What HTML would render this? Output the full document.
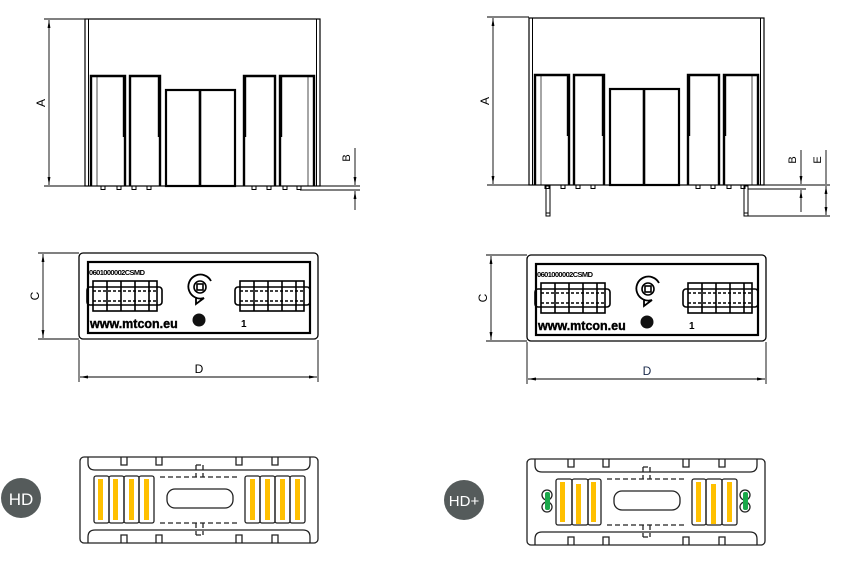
<!DOCTYPE html>
<html><head><meta charset="utf-8"><style>
html,body{margin:0;padding:0;background:#fff;}
svg{display:block;}
text{font-family:"Liberation Sans",sans-serif;}
</style></head><body>
<svg width="856" height="585" viewBox="0 0 856 585" xmlns="http://www.w3.org/2000/svg">
<defs>
<marker id="ar" viewBox="0 0 10 10" refX="10" refY="5" markerUnits="userSpaceOnUse" markerWidth="8" markerHeight="8" orient="auto-start-reverse"><path d="M0,3.2 L10,5 L0,6.8 z" fill="#000"/></marker>
<g id="side" fill="none" stroke="#000">
  <rect x="85" y="19" width="235" height="167" stroke-width="1.2"/>
  <line x1="88.5" y1="19" x2="88.5" y2="186" stroke-width="1"/>
  <line x1="316.5" y1="19" x2="316.5" y2="186" stroke-width="1"/>
  <path d="M91,186 V76 H125 V186 M124,76 V137" stroke-width="2.4"/>
  <path d="M130,186 V76 H160 V186 M159,76 V137" stroke-width="2.4"/>
  <rect x="166" y="90" width="69" height="96" stroke-width="2.2"/>
  <line x1="200" y1="90" x2="200" y2="186" stroke-width="2.6"/>
  <path d="M244,186 V76 H275 V186 M245,76 V137" stroke-width="2.4"/>
  <path d="M280,186 V76 H314 V186 M281,76 V137" stroke-width="2.4"/>
  <line x1="97" y1="77" x2="97" y2="186" stroke-width="0.7"/>
  <line x1="308" y1="77" x2="308" y2="186" stroke-width="0.7"/>
  <g stroke-width="1"><rect x="101" y="186" width="4" height="3.5"/><rect x="117" y="186" width="4" height="3.5"/><rect x="132" y="186" width="4" height="3.5"/><rect x="147" y="186" width="4" height="3.5"/><rect x="252" y="186" width="4" height="3.5"/><rect x="267" y="186" width="4" height="3.5"/><rect x="283" y="186" width="4" height="3.5"/><rect x="297" y="186" width="4" height="3.5"/></g>
</g>
<g id="top">
  <rect x="79" y="253" width="239" height="86" rx="4" fill="none" stroke="#000" stroke-width="1.3"/>
  <rect x="88" y="262" width="222" height="71" fill="none" stroke="#000" stroke-width="2.2"/>
  <g fill="none" stroke="#000" stroke-width="1.6">
    <rect x="93" y="281" width="64" height="30"/><rect x="87" y="287" width="75" height="18" rx="3"/>
    <line x1="107" y1="281" x2="107" y2="311"/><line x1="121" y1="281" x2="121" y2="311"/><line x1="135" y1="281" x2="135" y2="311"/><line x1="149" y1="281" x2="149" y2="311"/>
    <line x1="93" y1="291" x2="157" y2="291" stroke-dasharray="3 2"/><line x1="93" y1="301" x2="157" y2="301" stroke-dasharray="3 2"/>
    <rect x="240" y="281" width="64" height="30"/><rect x="235" y="287" width="75" height="18" rx="3"/>
    <line x1="254" y1="281" x2="254" y2="311"/><line x1="268" y1="281" x2="268" y2="311"/><line x1="282" y1="281" x2="282" y2="311"/><line x1="296" y1="281" x2="296" y2="311"/>
    <line x1="240" y1="291" x2="304" y2="291" stroke-dasharray="3 2"/><line x1="240" y1="301" x2="304" y2="301" stroke-dasharray="3 2"/>
    <path d="M211,281 A12,12 0 1 0 204,298 L196,304 L196,297" stroke-width="1.8"/>
    <circle cx="200" cy="287" r="6"/><rect x="197" y="284" width="6" height="6"/>
  </g>
  <circle cx="199" cy="320" r="6.5" fill="#111"/>
</g>
<g id="bot" fill="none" stroke="#222" stroke-width="1.3">
  <rect x="80" y="457" width="238" height="86" rx="4"/>
  <path d="M88,457 V463 Q88,470 95,470 H303 Q310,470 310,463 V457"/>
  <path d="M88,543 V537 Q88,530 95,530 H303 Q310,530 310,537 V543"/>
  <path d="M121,457 V465 H127 V457 M156,457 V465 H162 V457 M236,457 V465 H242 V457 M272,457 V465 H278 V457"/>
  <path d="M121,543 V535 H127 V543 M156,543 V535 H162 V543 M236,543 V535 H242 V543 M272,543 V535 H278 V543"/>
  <rect x="167" y="489" width="66" height="19" rx="8"/>
  <path d="M160,477 H238 M160,523 H238 M196,465 V477 M203,465 V477 M196,523 V535 M203,523 V535 M196,465 H203 M196,535 H203" stroke-dasharray="5 3"/>
</g>
</defs>

<use href="#side"/>
<g stroke="#000" stroke-width="0.9" fill="none">
  <line x1="44" y1="19" x2="85" y2="19"/><line x1="44" y1="186" x2="360" y2="186"/>
  <line x1="49" y1="20" x2="49" y2="185" marker-start="url(#ar)" marker-end="url(#ar)"/>
  <line x1="300" y1="190" x2="360" y2="190"/>
  <line x1="355" y1="148" x2="355" y2="185" marker-end="url(#ar)"/>
  <line x1="355" y1="210" x2="355" y2="191" marker-end="url(#ar)"/>
</g>
<text transform="translate(45,103) rotate(-90)" font-size="12" text-anchor="middle">A</text>
<text transform="translate(350,158) rotate(-90)" font-size="11" text-anchor="middle">B</text>

<use href="#side" transform="translate(444,-1)"/>
<g fill="none" stroke="#000" stroke-width="1">
  <rect x="546" y="186" width="4" height="30"/><rect x="744" y="186" width="4" height="30"/>
  <line x1="546" y1="213" x2="550" y2="213"/><line x1="744" y1="213" x2="748" y2="213"/>
</g>
<g stroke="#000" stroke-width="0.9" fill="none">
  <line x1="487" y1="17" x2="529" y2="17"/><line x1="487" y1="185" x2="830" y2="185"/>
  <line x1="493" y1="18" x2="493" y2="184" marker-start="url(#ar)" marker-end="url(#ar)"/>
  <line x1="748" y1="189" x2="806" y2="189"/><line x1="748" y1="216" x2="830" y2="216"/>
  <line x1="801" y1="150" x2="801" y2="184" marker-end="url(#ar)"/>
  <line x1="801" y1="212" x2="801" y2="190" marker-end="url(#ar)"/>
  <line x1="826" y1="150" x2="826" y2="184"/>
  <line x1="826" y1="186" x2="826" y2="215" marker-start="url(#ar)" marker-end="url(#ar)"/>
</g>
<text transform="translate(489,101) rotate(-90)" font-size="12" text-anchor="middle">A</text>
<text transform="translate(796,160) rotate(-90)" font-size="11" text-anchor="middle">B</text>
<text transform="translate(821,160) rotate(-90)" font-size="11" text-anchor="middle">E</text>

<use href="#top"/>
<text x="89" y="275" font-size="7.5" font-weight="bold" letter-spacing="-0.6">0601000002CSMD</text>
<text x="90" y="328" font-size="12.5" font-weight="bold" stroke="#000" stroke-width="0.4">www.mtcon.eu</text>
<text x="241" y="327" font-size="10" font-weight="bold">1</text>
<g stroke="#000" stroke-width="0.9" fill="none">
  <line x1="38" y1="253" x2="79" y2="253"/><line x1="38" y1="339" x2="79" y2="339"/>
  <line x1="43" y1="254" x2="43" y2="338" marker-start="url(#ar)" marker-end="url(#ar)"/>
  <line x1="79" y1="340" x2="79" y2="382"/><line x1="318" y1="340" x2="318" y2="382"/>
  <line x1="80" y1="377" x2="317" y2="377" marker-start="url(#ar)" marker-end="url(#ar)"/>
</g>
<text transform="translate(39,296) rotate(-90)" font-size="12" text-anchor="middle">C</text>
<text x="199" y="373" font-size="12" text-anchor="middle">D</text>

<use href="#top" transform="translate(448,2)"/>
<text x="537" y="277" font-size="7.5" font-weight="bold" letter-spacing="-0.6">0601000002CSMD</text>
<text x="538" y="330" font-size="12.5" font-weight="bold" stroke="#000" stroke-width="0.4">www.mtcon.eu</text>
<text x="689" y="329" font-size="10" font-weight="bold">1</text>
<g stroke="#000" stroke-width="0.9" fill="none">
  <line x1="486" y1="255" x2="527" y2="255"/><line x1="486" y1="341" x2="527" y2="341"/>
  <line x1="491" y1="256" x2="491" y2="340" marker-start="url(#ar)" marker-end="url(#ar)"/>
  <line x1="527" y1="342" x2="527" y2="384"/><line x1="766" y1="342" x2="766" y2="384"/>
  <line x1="528" y1="379" x2="765" y2="379" marker-start="url(#ar)" marker-end="url(#ar)"/>
</g>
<text transform="translate(487,298) rotate(-90)" font-size="12" text-anchor="middle">C</text>
<text x="647" y="375" font-size="12" text-anchor="middle" fill="#1a2a4a">D</text>

<use href="#bot"/>
<g fill="none" stroke="#222" stroke-width="1.3">
  <rect x="94" y="476" width="15" height="47" rx="2"/><rect x="109" y="476" width="15" height="47" rx="2"/><rect x="124" y="476" width="15" height="47" rx="2"/><rect x="139" y="476" width="15" height="47" rx="2"/>
  <rect x="245" y="476" width="15" height="47" rx="2"/><rect x="260" y="476" width="15" height="47" rx="2"/><rect x="275" y="476" width="15" height="47" rx="2"/><rect x="290" y="476" width="15" height="47" rx="2"/>
</g>
<g fill="#ffc000">
  <rect x="98" y="479" width="5" height="41"/><rect x="113" y="479" width="5" height="41"/><rect x="129" y="479" width="5" height="41"/><rect x="144" y="479" width="5" height="41"/>
  <rect x="250" y="479" width="5" height="41"/><rect x="265" y="479" width="5" height="41"/><rect x="280" y="479" width="5" height="41"/><rect x="295" y="479" width="5" height="41"/>
</g>
<circle cx="21" cy="498" r="20" fill="#555b5b"/>
<text x="21" y="505" font-size="17" fill="#fff" text-anchor="middle">HD</text>

<use href="#bot" transform="translate(447,2)"/>
<g fill="none" stroke="#222" stroke-width="1.3">
  <rect x="556" y="479" width="16" height="46" rx="2"/><rect x="572" y="479" width="16" height="46" rx="2"/><rect x="588" y="479" width="13" height="46" rx="2"/>
  <rect x="692" y="479" width="14" height="46" rx="2"/><rect x="706" y="479" width="16" height="46" rx="2"/><rect x="722" y="479" width="15" height="46" rx="2"/>
  <circle cx="547" cy="495" r="5"/><circle cx="547" cy="507" r="5"/>
  <circle cx="745" cy="495" r="5"/><circle cx="745" cy="507" r="5"/>
</g>
<g fill="#ffc000">
  <rect x="560" y="482" width="5" height="40"/><rect x="576" y="484" width="5" height="40"/><rect x="591" y="482" width="5" height="40"/>
  <rect x="696" y="482" width="5" height="40"/><rect x="711" y="484" width="5" height="40"/><rect x="727" y="482" width="5" height="40"/>
</g>
<g fill="#1aa84a"><rect x="545" y="492" width="5" height="18" rx="2"/><rect x="743" y="492" width="5" height="18" rx="2"/></g>
<circle cx="464" cy="500" r="20" fill="#555b5b"/>
<text x="464" y="506" font-size="15" fill="#fff" text-anchor="middle">HD+</text>
</svg>
</body></html>
